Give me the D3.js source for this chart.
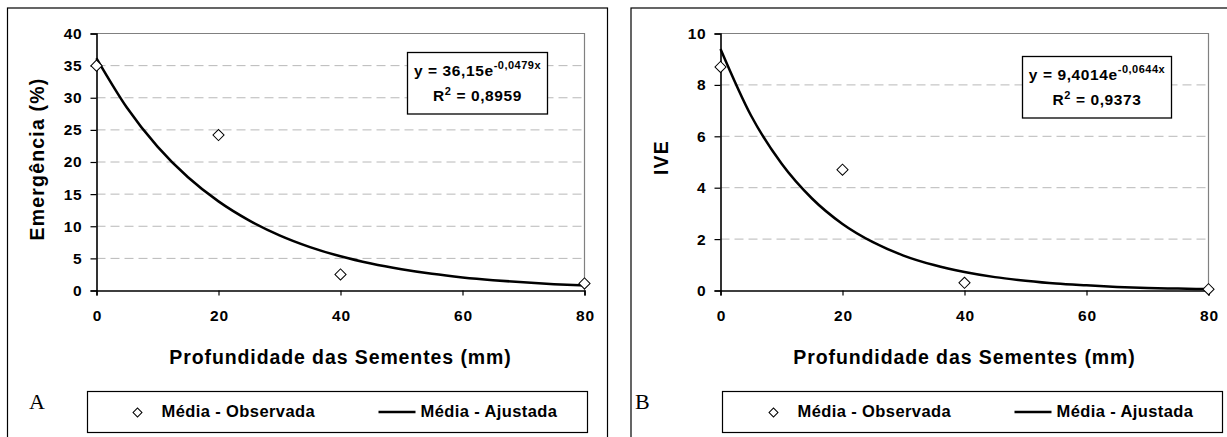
<!DOCTYPE html>
<html>
<head>
<meta charset="utf-8">
<script src="https://cdn.jsdelivr.net/npm/d3@7"></script>
<style>
  body { margin: 0; background: #fff; }
  svg { display: block; }
</style>
</head>
<body>
<div id="chart"></div>
<script>
// observed means
var depths = [0, 20, 40, 80];
var emergenciaObs = [35, 24.2, 2.5, 1.1];
var iveObs = [8.7, 4.7, 0.3, 0.05];

// fitted trend
var fitDepths = [0, 5, 10, 15, 20, 25, 30, 35, 40, 45, 50, 55, 60, 65, 70, 75, 80];
var emergenciaFit = [36.15, 28.45, 22.39, 17.62, 13.87, 10.92, 8.59, 6.76, 5.32, 4.19, 3.3, 2.59, 2.04, 1.61, 1.27, 0.99, 0.78];
var iveFit = [9.4, 6.81, 4.94, 3.58, 2.59, 1.88, 1.36, 0.99, 0.72, 0.52, 0.38, 0.27, 0.2, 0.14, 0.1, 0.075, 0.054];

var xTicks = [0, 20, 40, 60, 80];
var emergenciaTicks = [0, 5, 10, 15, 20, 25, 30, 35, 40];
var iveTicks = [0, 2, 4, 6, 8, 10];

var svgWidth = 1227;
var svgHeight = 437;
var sans = "'Liberation Sans', Arial, sans-serif";

var svg = d3.select("#chart")
  .append("svg")
  .attr("width", svgWidth)
  .attr("height", svgHeight);

// bold sans text helper
function label(sel, size, spacing) {
  return sel.style("font-family", sans)
    .style("font-weight", "bold")
    .style("font-size", size + "px")
    .style("letter-spacing", (spacing || 0) + "px")
    .attr("fill", "#000");
}

function drawPanel(p) {
  var g = svg.append("g");

  // outer frame
  g.append("rect")
    .attr("x", p.frame[0]).attr("y", p.frame[1])
    .attr("width", p.frame[2]).attr("height", p.frame[3])
    .attr("fill", "none").attr("stroke", "#000").attr("stroke-width", 1.2);

  var x = d3.scaleLinear().domain([0, 80]).range([p.left, p.left + 488]);
  var y = d3.scaleLinear().domain(p.yDomain).range([290.5, 33.5]);

  // plot area top / right border
  g.append("path")
    .attr("d", `M${x(0)},${y(p.yDomain[1])}H${x(80)}V${y(0)}`)
    .attr("fill", "none").attr("stroke", "#808080").attr("stroke-width", 1.2);

  // dashed grid
  g.selectAll(".grid")
    .data(p.yTicks.filter(d => d > 0 && d < p.yDomain[1]))
    .enter()
    .append("line")
    .attr("x1", x(0)).attr("x2", x(80))
    .attr("y1", d => y(d)).attr("y2", d => y(d))
    .attr("stroke", "#b8b8b8").attr("stroke-dasharray", "9,5");

  var bottomAxis = d3.axisBottom(x).tickValues(xTicks).tickSize(5).tickPadding(14);
  var leftAxis = d3.axisLeft(y).tickValues(p.yTicks).tickSize(6).tickPadding(8);

  var gx = g.append("g").attr("transform", `translate(0, ${y(0)})`).call(bottomAxis);
  var gy = g.append("g").attr("transform", `translate(${x(0)}, 0)`).call(leftAxis);
  [gx, gy].forEach(function(a) {
    a.select(".domain").attr("stroke", "#000").attr("stroke-width", 1.6);
    a.selectAll(".tick line").attr("stroke", "#000").attr("stroke-width", 1.2);
    label(a.selectAll("text"), 15.5, 0.8);
  });
  gx.selectAll("text").attr("dx", "0.4px");

  // fitted curve
  var line = d3.line()
    .x((d, i) => x(fitDepths[i]))
    .y(d => y(d))
    .curve(d3.curveMonotoneX);
  g.append("path")
    .datum(p.fit)
    .attr("d", line)
    .attr("fill", "none").attr("stroke", "#000").attr("stroke-width", 2.5);

  // observed diamonds
  var diamond = d3.symbol().type(d3.symbolSquare).size(62);
  g.selectAll(".obs")
    .data(p.obs)
    .enter()
    .append("path")
    .attr("d", diamond)
    .attr("transform", (d, i) => `translate(${x(depths[i])},${y(d)}) rotate(45)`)
    .attr("fill", "#fff").attr("stroke", "#000").attr("stroke-width", 1);

  // axis titles
  label(g.append("text"), 19.5, 0.9)
    .attr("x", x(40)).attr("y", 364)
    .attr("text-anchor", "middle")
    .text("Profundidade das Sementes (mm)");
  label(g.append("text"), 19.5, 1.2)
    .attr("transform", `translate(${p.yTitleX}, ${p.yTitleY}) rotate(-90)`)
    .attr("text-anchor", "middle")
    .text(p.yTitle);

  // equation box
  var eq = p.eq;
  g.append("rect")
    .attr("x", eq.x).attr("y", eq.y).attr("width", eq.w).attr("height", eq.h)
    .attr("fill", "#fff").attr("stroke", "#000").attr("stroke-width", 1.3);
  var t1 = label(g.append("text"), 15.5, 0.6)
    .attr("x", eq.x + eq.w / 2).attr("y", eq.y + 23)
    .attr("text-anchor", "middle");
  t1.append("tspan").text(eq.line1);
  t1.append("tspan").style("font-size", "11px").style("letter-spacing", "0.5px").attr("dy", -7).text(eq.exp);
  var t2 = label(g.append("text"), 15.5, 0.6)
    .attr("x", eq.x + eq.w / 2).attr("y", eq.y + 48)
    .attr("text-anchor", "middle");
  t2.append("tspan").text("R");
  t2.append("tspan").style("font-size", "11px").attr("dy", -6).text("2");
  t2.append("tspan").attr("dy", 6).text(" = " + eq.r2);

  // legend
  var lg = p.legend;
  g.append("rect")
    .attr("x", lg.x).attr("y", 391.5).attr("width", 500).attr("height", 41)
    .attr("fill", "#fff").attr("stroke", "#000").attr("stroke-width", 1.2);
  g.append("path")
    .attr("d", d3.symbol().type(d3.symbolSquare).size(40))
    .attr("transform", `translate(${lg.x + lg.mark},412.5) rotate(45)`)
    .attr("fill", "#fff").attr("stroke", "#000").attr("stroke-width", 1);
  label(g.append("text"), 16.5, 0.4)
    .attr("x", lg.x + lg.mark + 24).attr("y", 417)
    .text("Média - Observada");
  g.append("line")
    .attr("x1", lg.x + lg.line).attr("x2", lg.x + lg.line + 37)
    .attr("y1", 412).attr("y2", 412)
    .attr("stroke", "#000").attr("stroke-width", 2.5);
  label(g.append("text"), 16.5, 0.4)
    .attr("x", lg.x + lg.line + 42).attr("y", 417)
    .text("Média - Ajustada");

  // panel letter
  g.append("text")
    .attr("x", p.letterX).attr("y", 409)
    .style("font-family", "'Liberation Serif', 'Times New Roman', serif")
    .style("font-size", "22px")
    .attr("fill", "#000")
    .text(p.letter);
}

drawPanel({
  frame: [7.5, 8, 600, 440],
  left: 96.5,
  yDomain: [0, 40],
  yTicks: emergenciaTicks,
  obs: emergenciaObs,
  fit: emergenciaFit,
  yTitle: "Emergência (%)",
  yTitleX: 44, yTitleY: 159,
  eq: { x: 407.5, y: 52.5, w: 140, h: 61.5, line1: "y = 36,15e", exp: "-0,0479x", r2: "0,8959" },
  legend: { x: 87.5, mark: 50, line: 291 },
  letter: "A", letterX: 29
});

drawPanel({
  frame: [631, 8, 620, 440],
  left: 720.5,
  yDomain: [0, 10],
  yTicks: iveTicks,
  obs: iveObs,
  fit: iveFit,
  yTitle: "IVE",
  yTitleX: 668, yTitleY: 157.5,
  eq: { x: 1022.5, y: 56.5, w: 149, h: 61.5, line1: "y = 9,4014e", exp: "-0,0644x", r2: "0,9373" },
  legend: { x: 722.5, mark: 51, line: 292 },
  letter: "B", letterX: 635
});
</script>
</body>
</html>
